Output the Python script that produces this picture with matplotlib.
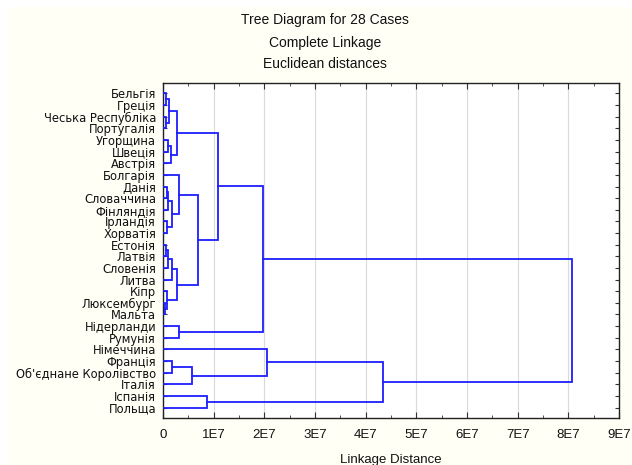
import matplotlib
matplotlib.use("Agg")
import matplotlib.pyplot as plt
from matplotlib.patches import Rectangle
from matplotlib.ticker import MultipleLocator, FixedLocator

plt.rcParams['font.family'] = ['Liberation Sans', 'DejaVu Sans']

leaves = ["Бельгія", "Греція", "Чеська Республіка", "Португалія", "Угорщина",
          "Швеція", "Австрія", "Болгарія", "Данія", "Словаччина", "Фінляндія",
          "Ірландія", "Хорватія", "Естонія", "Латвія", "Словенія", "Литва",
          "Кіпр", "Люксембург", "Мальта", "Нідерланди", "Румунія", "Німеччина",
          "Франція", "Об'єднане Королівство", "Італія", "Іспанія", "Польща"]

# linkage-style merges: new cluster ids start at 28
merge_left = [0, 2, 28, 4, 31, 30, 8, 34, 11, 35, 7, 13, 39, 40, 18, 17, 41,
              38, 33, 20, 46, 23, 49, 22, 26, 51, 48]
merge_right = [1, 3, 29, 5, 6, 32, 9, 10, 12, 36, 37, 14, 15, 16, 19, 42, 43,
               44, 45, 21, 47, 24, 25, 50, 27, 52, 53]
merge_height = [0.06e7, 0.06e7, 0.12e7, 0.09e7, 0.16e7, 0.28e7, 0.07e7, 0.10e7,
                0.08e7, 0.18e7, 0.32e7, 0.05e7, 0.10e7, 0.18e7, 0.03e7, 0.08e7,
                0.28e7, 0.69e7, 1.08e7, 0.32e7, 1.97e7, 0.18e7, 0.57e7, 2.05e7,
                0.87e7, 4.34e7, 8.08e7]

x_ticks = [0, 1e7, 2e7, 3e7, 4e7, 5e7, 6e7, 7e7, 8e7, 9e7]
x_tick_labels = ["0", "1E7", "2E7", "3E7", "4E7", "5E7", "6E7", "7E7", "8E7", "9E7"]

W, H = 632, 465
fig = plt.figure(figsize=(W / 100, H / 100), dpi=100, facecolor='white')
fig.patches.append(Rectangle((8 / W, 0), 1 - 8 / W, 1 - 7 / H, transform=fig.transFigure,
                             facecolor='#FFFFF6', edgecolor='none', zorder=-10))

ax = fig.add_axes([163 / W, 1 - 418 / H, (619 - 163) / W, (418 - 83) / H])
ax.set_facecolor('white')

n = len(leaves)
pos = {i: (0.0, float(i)) for i in range(n)}  # (height, y)
col = '#1E1EFF'
for k, (a, b, h) in enumerate(zip(merge_left, merge_right, merge_height)):
    ha, ya = pos[a]
    hb, yb = pos[b]
    ax.plot([ha, h, h, hb], [ya, ya, yb, yb], color=col, lw=1.3,
            solid_joinstyle='miter', zorder=3)
    pos[n + k] = (h, (ya + yb) / 2)

ax.set_xlim(0, 9e7)
ax.set_ylim(27.9, -0.9)
ax.set_yticks(range(n))
ax.set_yticklabels(leaves, fontsize=8.3, color='#111111', family=['DejaVu Sans'])
ax.xaxis.set_major_locator(FixedLocator(x_ticks))
ax.set_xticklabels(x_tick_labels, fontsize=9.5, color='#111111')
ax.xaxis.set_minor_locator(MultipleLocator(5e6))
ax.tick_params(axis='both', which='both', direction='in', top=True, right=True,
               color='#333333')
ax.tick_params(axis='x', which='major', length=4, pad=8)
ax.tick_params(axis='x', which='minor', length=2)
ax.tick_params(axis='y', which='major', length=3, pad=5)
ax.grid(axis='x', color='#DADADA', lw=0.8, zorder=0)
ax.set_axisbelow(True)
for s in ax.spines.values():
    s.set_color('#222222')
    s.set_linewidth(1.0)

ax.set_xlabel("Linkage Distance", fontsize=9.5, labelpad=9, color='#111111')

cx = 325 / W
fig.text(cx, 1 - 20 / H, "Tree Diagram for 28 Cases", ha='center', va='center', fontsize=10, color='#111111')
fig.text(cx, 1 - 43 / H, "Complete Linkage", ha='center', va='center', fontsize=10, color='#111111')
fig.text(cx, 1 - 64 / H, "Euclidean distances", ha='center', va='center', fontsize=10, color='#111111')

fig.savefig("out.png", dpi=100, facecolor=fig.get_facecolor())
